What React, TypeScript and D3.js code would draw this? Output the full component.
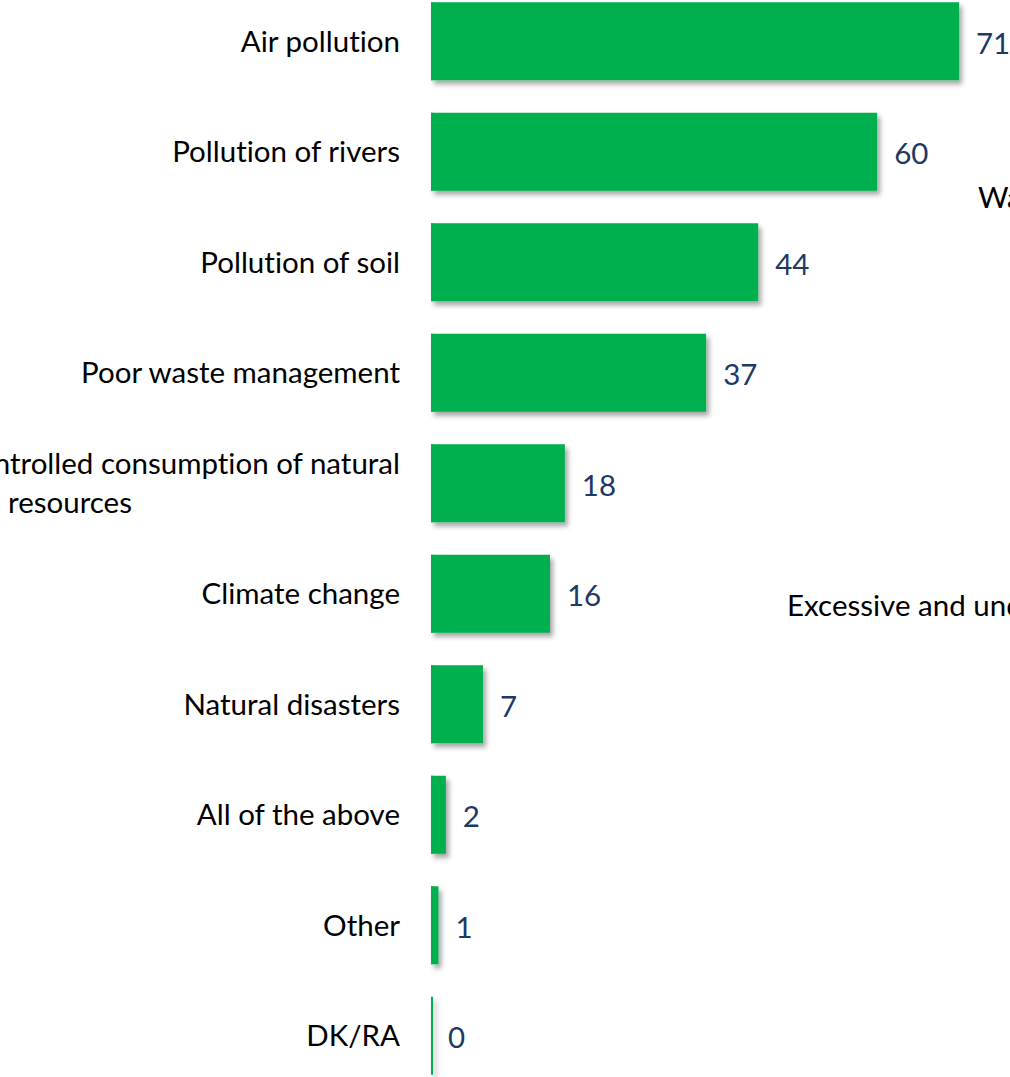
import React from "react";
import * as d3 from "d3";

const categories = [
  "Air pollution",
  "Pollution of rivers",
  "Pollution of soil",
  "Poor waste management",
  "Excessive and uncontrolled consumption of natural resources",
  "Climate change",
  "Natural disasters",
  "All of the above",
  "Other",
  "DK/RA",
];
const values = [71, 60, 44, 37, 18, 16, 7, 2, 1, 0];
const wrappedLabels: Record<string, string[]> = {
  "Excessive and uncontrolled consumption of natural resources": [
    "Excessive and uncontrolled consumption of natural",
    "resources",
  ],
};
const strayTexts = ["Wa", "Excessive and und"];

const W = 1010;
const H = 1077;
const GREEN = "#00B050";
const NAVY = "#203864";
const FONT = "Lato, 'Open Sans', sans-serif";
const FS = 29.5;
const txtStyle: React.CSSProperties = { fontVariantLigatures: "none", fontFeatureSettings: "'liga' 0" };

export default function App() {
  const x = d3.scaleLinear().domain([0, d3.max(values) as number]).range([431, 959]);
  const y = d3
    .scaleBand<string>()
    .domain(categories)
    .range([-14, 1091])
    .paddingInner(0.294)
    .paddingOuter(0.147);

  return (
    <svg
      width={W}
      height={H}
      style={{ position: "absolute", left: 0, top: 0, background: "#fff" }}
    >
      <defs>
        <filter id="shadow" filterUnits="userSpaceOnUse" x={0} y={0} width={W} height={H}>
          <feDropShadow dx="3" dy="4" stdDeviation="2.5" floodColor="#000" floodOpacity="0.35" />
        </filter>
      </defs>
      {categories.map((c, i) => {
        const by = y(c) as number;
        const bh = y.bandwidth();
        const cy = by + bh / 2;
        const lines = wrappedLabels[c];
        return (
          <g key={c}>
            <g filter="url(#shadow)">
              <rect x={x(0)} y={by} width={x(values[i]) - x(0)} height={bh} fill={GREEN} />
              <line x1={x(0) + 1} x2={x(0) + 1} y1={by} y2={by + bh} stroke={GREEN} strokeWidth={2} />
            </g>
            {lines ? (
              <>
                <text x={400} y={cy - 21} textAnchor="end" dominantBaseline="central" fontFamily={FONT} fontSize={FS} fill="#000" style={txtStyle}>
                  {lines[0]}
                </text>
                <text x={8} y={cy + 18} textAnchor="start" dominantBaseline="central" fontFamily={FONT} fontSize={FS} fill="#000" style={txtStyle}>
                  {lines[1]}
                </text>
              </>
            ) : (
              <text x={400} y={cy - 1} textAnchor="end" dominantBaseline="central" fontFamily={FONT} fontSize={FS} fill="#000" style={txtStyle}>
                {c}
              </text>
            )}
            <text
              x={x(values[i]) + 17}
              y={cy + 1}
              textAnchor="start"
              dominantBaseline="central"
              fontFamily={FONT}
              fontSize={FS}
              fill={NAVY}
              style={txtStyle}
            >
              {values[i]}
            </text>
          </g>
        );
      })}
      <text x={978} y={196} dominantBaseline="central" fontFamily={FONT} fontSize={FS} fill="#000" style={txtStyle}>
        {strayTexts[0]}
      </text>
      <text x={787} y={604} dominantBaseline="central" fontFamily={FONT} fontSize={FS} fill="#000" style={txtStyle}>
        {strayTexts[1]}
      </text>
    </svg>
  );
}
